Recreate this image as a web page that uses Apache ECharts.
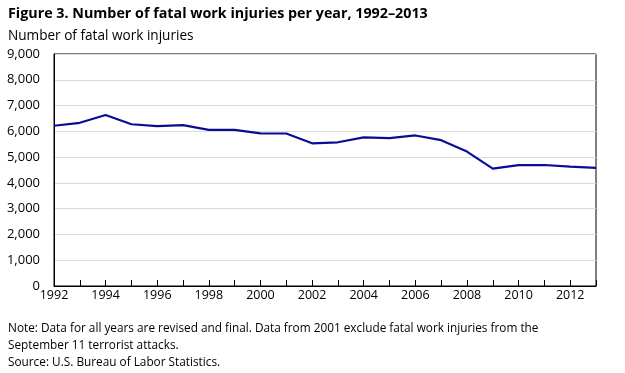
<!DOCTYPE html>
<html><head><meta charset="utf-8">
<script src="https://cdn.jsdelivr.net/npm/echarts@6/dist/echarts.min.js"></script>
<style>html,body{margin:0;padding:0;background:#fff}#c{width:625px;height:373px}</style>
</head><body><div id="c"></div>
<script>
const years = ['1992','1993','1994','1995','1996','1997','1998','1999','2000','2001','2002','2003','2004','2005','2006','2007','2008','2009','2010','2011','2012','2013'];
const fatalities = [6217,6331,6632,6275,6202,6238,6055,6054,5920,5915,5534,5575,5764,5734,5840,5657,5214,4551,4690,4693,4628,4585];
const yTicks = [0,1000,2000,3000,4000,5000,6000,7000,8000,9000];
const titleText = 'Figure 3. Number of fatal work injuries per year, 1992–2013';
const yTitle = 'Number of fatal work injuries';
const noteLines = ['Note: Data for all years are revised and final. Data from 2001 exclude fatal work injuries from the','September 11 terrorist attacks.','Source: U.S. Bureau of Labor Statistics.'];

const font = '"Open Sans", "Noto Sans", sans-serif';
const chart = echarts.init(document.getElementById('c'));
chart.setOption({
  animation: false,
  title: [
    {text: titleText, left: 8, top: 7, padding: 0, textStyle: {fontFamily: font, fontSize: 14.3, fontWeight: 'bold', color: '#000'}},
    {text: yTitle, left: 8, top: 29, padding: 0, textStyle: {fontFamily: font, fontSize: 13.6, fontWeight: 'normal', color: '#000'}},
    {text: noteLines.join('\n'), left: 8, top: 320, padding: 0, textStyle: {fontFamily: font, fontSize: 11.8, fontWeight: 'normal', color: '#000', lineHeight: 17}}
  ],
  grid: {left: 54, right: 29, top: 54, bottom: 87, show: true, borderColor: '#000', borderWidth: 1},
  xAxis: {
    type: 'category', data: years, boundaryGap: false,
    axisLine: {lineStyle: {color: '#000', width: 1}},
    axisTick: {inside: true, length: 6, interval: 0, lineStyle: {color: '#000'}},
    axisLabel: {interval: (i) => i % 2 === 0, color: '#000', fontFamily: font, fontSize: 12.5, margin: 3}
  },
  yAxis: {
    type: 'value', min: 0, max: 9000, interval: 1000,
    axisLine: {show: true, lineStyle: {color: '#000', width: 1}},
    axisTick: {show: false},
    splitLine: {lineStyle: {color: '#d9d9d9', width: 1}},
    axisLabel: {color: '#000', fontFamily: font, fontSize: 13, margin: 14,
      formatter: v => yTicks.includes(v) ? v.toLocaleString('en-US') : ''}
  },
  series: [{
    type: 'line', data: fatalities, symbol: 'none',
    lineStyle: {color: '#0b0b96', width: 2.2}
  }]
});
</script></body></html>
